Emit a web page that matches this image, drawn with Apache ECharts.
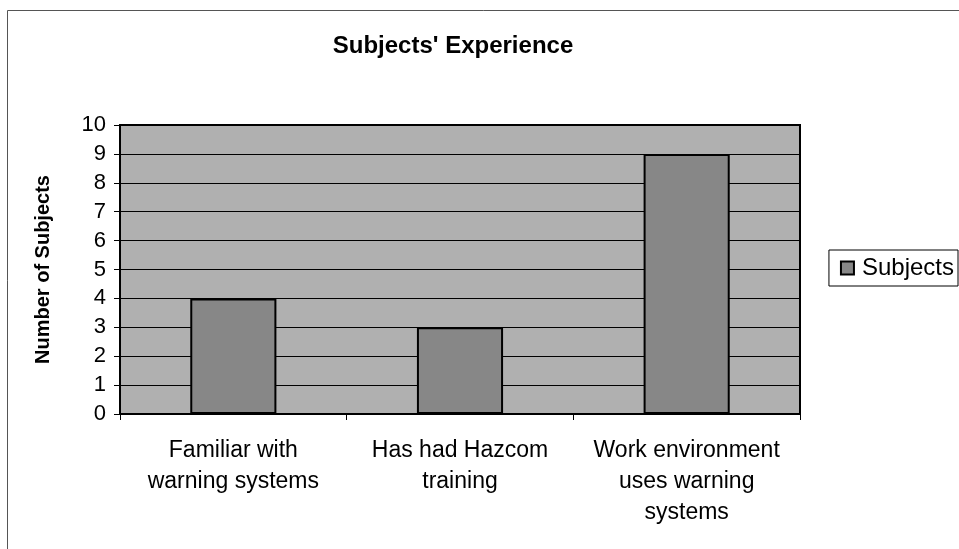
<!DOCTYPE html>
<html lang="en">
<head>
  <meta charset="UTF-8">
  <title>Subjects' Experience</title>
  <style>
    html, body { margin: 0; padding: 0; background: #fff; }
    #chart { width: 959px; height: 549px; }
  </style>
</head>
<body>
<div id="chart"></div>
<script src="https://cdn.jsdelivr.net/npm/echarts@6/dist/echarts.min.js"></script>
<script>
  // data
  var categories = ['Familiar with\nwarning systems', 'Has had Hazcom\ntraining', 'Work environment\nuses warning\nsystems'];
  var subjects = [4, 3, 9];
  var yTicks = [0, 10, 1]; // min, max, interval

  var font = 'Liberation Sans, Arial, sans-serif';
  var myChart = echarts.init(document.getElementById('chart'));
  var options = {
    backgroundColor: '#fff',
    animation: false,
    title: {
      text: "Subjects' Experience",
      left: 448,
      textAlign: 'center',
      top: 29,
      textStyle: { fontFamily: font, fontSize: 24, fontWeight: 'bold', color: '#000' }
    },
    graphic: [{
      type: 'rect',
      shape: { x: 7.5, y: 10.5, width: 960, height: 560 },
      style: { fill: 'none', stroke: '#555', lineWidth: 1 }
    }],
    legend: {
      right: 1,
      top: 250,
      orient: 'vertical',
      borderColor: '#000',
      borderWidth: 1,
      padding: [6, 4, 6, 11],
      itemWidth: 13,
      itemHeight: 13,
      itemGap: 0,
      icon: 'rect',
      textStyle: { fontFamily: font, fontSize: 24, color: '#000', padding: [0, 0, 0, 3] },
      data: ['Subjects']
    },
    grid: {
      left: 120, right: 159, top: 125, bottom: 135,
      show: true,
      backgroundColor: '#b0b0b0',
      borderColor: '#000',
      borderWidth: 2
    },
    xAxis: {
      type: 'category',
      data: categories,
      axisLine: { lineStyle: { color: '#000', width: 2 } },
      axisTick: { show: true, length: 6, lineStyle: { color: '#000' } },
      axisLabel: {
        interval: 0, hideOverlap: false,
        fontFamily: font, fontSize: 23, color: '#000', margin: 21, lineHeight: 31
      }
    },
    yAxis: {
      type: 'value',
      min: yTicks[0], max: yTicks[1], interval: yTicks[2],
      name: 'Number of Subjects',
      nameLocation: 'middle',
      nameGap: 67,
      nameTextStyle: { fontFamily: font, fontSize: 20, fontWeight: 'bold', color: '#000' },
      axisLine: { show: true, lineStyle: { color: '#000', width: 2 } },
      axisTick: { show: true, length: 6, lineStyle: { color: '#000' } },
      axisLabel: { fontFamily: font, fontSize: 22, color: '#000', margin: 14 },
      splitLine: { show: true, lineStyle: { color: '#000', width: 1 } }
    },
    series: [{
      name: 'Subjects',
      type: 'bar',
      data: subjects,
      barWidth: '38%',
      itemStyle: { color: '#878787', borderColor: '#000', borderWidth: 2 }
    }]
  };
  myChart.setOption(options);
</script>
</body>
</html>
